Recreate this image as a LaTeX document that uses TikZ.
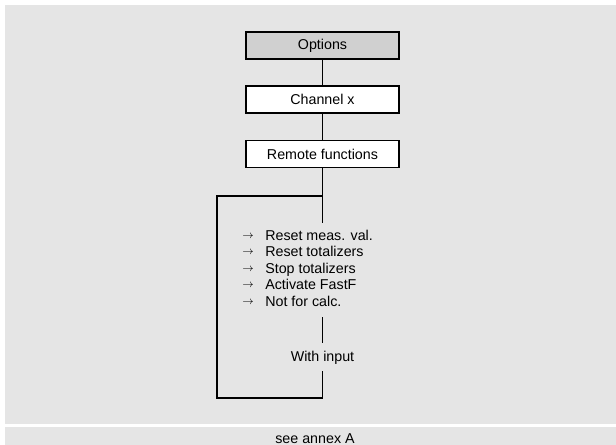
\documentclass[tikz,border=0pt]{standalone}
\usepackage{fontspec}
\setmainfont{Liberation Sans}
\definecolor{panel}{HTML}{E5E5E5}
\definecolor{optfill}{HTML}{D0D0D0}
\begin{document}
\begin{tikzpicture}[x=0.75pt,y=-0.75pt,
  font=\fontsize{10.7}{12.4}\selectfont,
  box/.style={draw=black,line width=1.2pt,fill=white,minimum width=114.75pt,minimum height=20.25pt,inner sep=0pt},
  conn/.style={draw=black,line width=1.1pt},
  item/.style={anchor=base west,inner sep=0pt},
  arr/.style={inner sep=0pt,font=\fontsize{8}{8}\selectfont}]
\useasboundingbox (0,0) rectangle (616,445);
\fill[panel] (5,5) rectangle (616,424);
\fill[panel] (5,427) rectangle (616,445);

\node[box,fill=optfill] (options) at (322.5,45.5) {Options};
\node[box] (channel) at (322.5,99.5) {Channel x};
\node[box] (remote) at (322.5,154) {Remote functions};

\coordinate (rend) at (322.5,223);
\coordinate (ltop) at (322.5,196);
\coordinate (lleft) at (217,196);
\coordinate (lbot) at (217,398);
\coordinate (rbot) at (322.5,398);
\coordinate (wlow) at (322.5,371);
\coordinate (wup1) at (322.5,317);
\coordinate (wup2) at (322.5,343);

\draw[conn] (options) -- (channel);
\draw[conn] (channel) -- (remote);
\draw[conn] (remote) -- (rend);
\draw[conn] (ltop) -- (lleft) -- (lbot) -- (rbot) -- (wlow);
\draw[conn] (wup1) -- (wup2);

\node[anchor=base,inner sep=0pt] (withinput) at (322.5,361) {With input};

\foreach \i/\t/\y in {1/Reset meas. val./240, 2/Reset totalizers/256.5, 3/Stop totalizers/273, 4/Activate FastF/289.5, 5/Not for calc./306}{
  \node[arr] (a\i) at (248,\y-3.6) {$\rightarrow$};
  \node[item] (t\i) at (265,\y) {\t};
}

\node[anchor=base,inner sep=0pt] (annex) at (315,443) {see annex A};
\end{tikzpicture}
\end{document}
